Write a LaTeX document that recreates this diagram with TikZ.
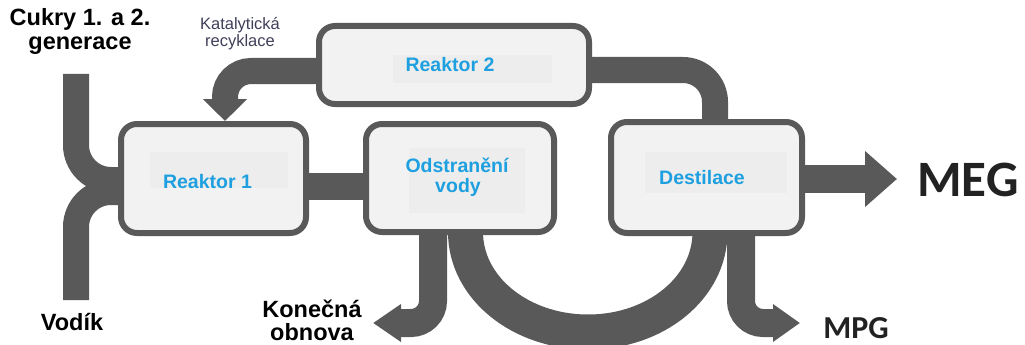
\documentclass[tikz,border=0pt]{standalone}
\usepackage{fontspec}
\setmainfont{Liberation Sans}
\newfontfamily\carlito{Carlito}
\usetikzlibrary{arrows.meta}
\definecolor{pipec}{HTML}{595959}
\definecolor{boxfill}{HTML}{F2F2F2}
\definecolor{lblbgc}{HTML}{EDEDED}
\definecolor{lblc}{HTML}{1EA0E0}
\definecolor{katc}{HTML}{3F3F5A}
\definecolor{outc}{HTML}{222222}
\pgfdeclarelayer{pipes}
\pgfsetlayers{pipes,main}
\begin{document}
\begin{tikzpicture}[x=1pt,y=-1pt,
  box/.style={draw=pipec,line width=6pt,fill=boxfill,rounded corners=16pt,inner sep=0pt,outer sep=3pt},
  pipe/.style={draw=pipec,line width=26pt},
  lbl/.style={text=lblc,font=\bfseries\fontsize{19.5}{21}\selectfont,align=center,inner sep=0pt},
  big/.style={font=\bfseries\fontsize{23.5}{23}\selectfont,align=center,text=black,inner sep=0pt},
  kat/.style={font=\fontsize{16.5}{17}\selectfont,text=katc,anchor=base,inner sep=0pt},
  cal/.style={text=outc,inner sep=0pt,anchor=base}
]
\useasboundingbox (0,0) rectangle (1025,345);
% boxes
\node[box,minimum width=185pt,minimum height=109pt] (r1) at (213.5,178.5) {};
\node[box,minimum width=270pt,minimum height=78pt] (r2) at (454,65) {};
\node[box,minimum width=188pt,minimum height=108pt] (ov) at (460,178) {};
\node[box,minimum width=191pt,minimum height=111pt] (dst) at (706.5,177.5) {};
% label backgrounds
\fill[lblbgc] (150,152) rectangle (288,188);
\fill[lblbgc] (393,55) rectangle (552,83);
\fill[lblbgc] (409,148) rectangle (525,213);
\fill[lblbgc] (645,152) rectangle (787,193);
% box labels
\node[lbl,anchor=base] (t1) at (207.5,188) {Reaktor 1};
\node[lbl,anchor=base] (t2) at (450,71) {Reaktor 2};
\node[lbl,anchor=base] (t3a) at (457,172) {Odstranění};
\node[lbl,anchor=base] (t3b) at (458,192) {vody};
\node[lbl,anchor=base] (t4) at (702,184) {Destilace};
% outer texts
\node[big,anchor=base] (cukry1) at (80,26) {Cukry 1. a 2.};
\node[big,anchor=base] (cukry2) at (80,49) {generace};
\node[big,anchor=base] (vodik) at (72,330) {Vodík};
\node[big,anchor=base] (kon1) at (312,317) {Konečná};
\node[big,anchor=base] (kon2) at (312,340) {obnova};
\node[kat] (kat1) at (240,30) {Katalytická};
\node[kat] (kat2) at (240,47) {recyklace};
\node[cal,font=\carlito\bfseries\fontsize{51}{52}\selectfont] (meg) at (968,196) {MEG};
\node[cal,font=\carlito\bfseries\fontsize{32}{33}\selectfont] (mpg) at (856,338) {MPG};
% free ends
\coordinate (sugar) at (76,74);
\coordinate (hydro) at (76,300);
\coordinate (megtip) at (897,179);
\coordinate (kontip) at (373,323);
\coordinate (mpgtip) at (800,323);
\begin{pgfonlayer}{pipes}
  \draw[pipe,rounded corners=35pt] (sugar) -- (76,180) -- (r1.center |- 0,180);
  \draw[pipe,rounded corners=35pt] (hydro) -- (76,192) -- (r1.center |- 0,192);
  \draw[pipe,line width=27pt] (r1.center |- 0,186.5) -- (ov.center |- 0,186.5);
  \draw[pipe,rounded corners=32pt] (r2.center |- 0,70) -- (715,70) -- (dst.center -| 715,0);
  \draw[pipe,rounded corners=26pt,-{Triangle[width=43pt,length=22pt]}] (r2.center |- 0,71) -- (225,71) -- (r1.north -| 225,0);
  \draw[pipe,line width=28pt,-{Triangle[width=54pt,length=32pt]}] (dst.center |- 0,179) -- (megtip);
  \draw[pipe,line width=28pt,rounded corners=22pt,-{Triangle[width=36pt,length=28pt]}] (ov.center -| 433,0) -- (433,323) -- (kontip);
  \draw[pipe,line width=28pt,rounded corners=22pt,-{Triangle[width=36pt,length=27pt]}] (dst.center -| 741,0) -- (741,323) -- (mpgtip);
  \draw[pipe,line width=35pt] (ov.center -| 465.5,0) -- (465.5,232) .. controls (465.5,288) and (520.6,332) .. (588,332) .. controls (655.4,332) and (710,288) .. (710,232) -- (dst.center -| 710,0);
\end{pgfonlayer}
\end{tikzpicture}
\end{document}
